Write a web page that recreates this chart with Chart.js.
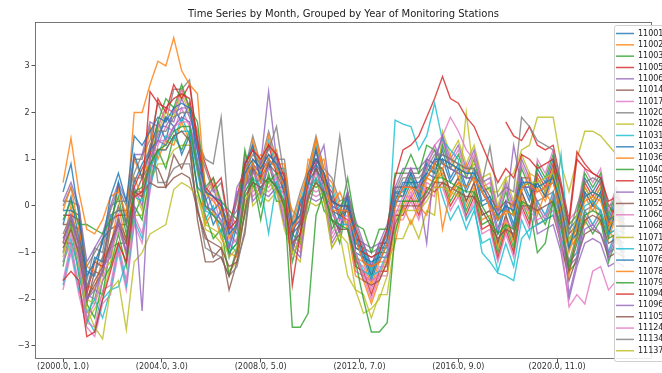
<!DOCTYPE html>
<html>
<head>
<meta charset="utf-8">
<script src="https://cdn.jsdelivr.net/npm/chart.js@4.4.1/dist/chart.umd.min.js"></script>
<style>
  html, body { margin: 0; padding: 0; background: #fff; overflow: hidden; }
  #wrap { width: 662px; height: 373px; }
</style>
</head>
<body>
<div id="wrap"><canvas id="myChart" width="662" height="373"></canvas></div>
<script>
// month index since (2000, 1), sampled every 4 months
var months = [0,4,8,12,16,20,24,28,32,36,40,44,48,52,56,60,64,68,72,76,80,84,88,92,
  96,100,104,108,112,116,120,124,128,132,136,140,144,148,152,156,160,164,168,172,176,180,184,188,
  192,196,200,204,208,212,216,220,224,228,232,236,240,244,248,252,256,260,264,268,272,276,280,284];

var xTickPos = [0, 50, 100, 150, 200, 250];
var xTickLabels = ["(2000.0, 1.0)", "(2004.0, 3.0)", "(2008.0, 5.0)", "(2012.0, 7.0)", "(2016.0, 9.0)", "(2020.0, 11.0)"];
var yTickPos = [-3, -2, -1, 0, 1, 2, 3];
var yTickLabels = ["\u22123", "\u22122", "\u22121", "0", "1", "2", "3"];

var stations = ["11001","11002","11003","11005","11006","11014","11017","11020","11028","11031",
  "11033","11036","11040","11050","11051","11052","11060","11068","11071","11072",
  "11076","11078","11079","11094","11096","11105","11124","11134","11137"];

var s11001 = [0.3,0.9,-0.2,-1.5,-1.2,-0.8,0.2,0.7,0.1,1.5,1.3,1.6,
  1.9,1.8,2.1,2.2,2.1,1.2,0.3,0.2,0.1,-0.6,-0.4,0.7,
  1.0,0.8,1.1,0.9,0.5,-0.4,-0.2,0.7,1.0,0.7,0.1,0.0,
  0.0,-0.6,-1.1,-1.2,-1.1,-0.7,0.1,0.5,0.5,0.5,0.7,1.0,
  1.0,0.9,0.8,0.7,0.7,0.4,0.1,-0.2,0.0,-0.1,0.5,0.5,
  0.4,0.5,0.6,0.0,-0.9,-0.3,0.2,0.3,0.2,-0.3,-0.2,-0.3];
var s11002 = [0.5,1.45,0.3,-0.5,-0.6,-0.3,0.2,0.3,-0.2,2.0,2.0,2.6,
  3.1,3.0,3.6,2.9,2.6,2.4,0.3,0.1,-0.1,-0.7,-0.4,0.6,
  0.9,0.5,1.0,0.8,0.4,-0.5,-0.2,0.6,1.45,0.6,-0.1,-0.1,
  -0.1,-0.7,-1.2,-1.3,-1.2,-0.8,0.0,0.4,0.4,0.3,0.6,0.9,
  -0.5,0.3,0.5,0.4,0.6,0.3,0.0,-0.3,-0.1,-0.2,0.4,0.5,
  0.3,0.4,0.5,-0.1,-1.0,-0.4,0.1,0.2,0.1,-0.4,-0.3,-0.4];
var s11003 = [-0.3,0.1,-0.4,-0.4,-0.5,-0.6,-0.3,0.2,-0.6,0.3,0.4,0.9,
  1.2,1.3,1.6,1.7,1.7,0.8,0.0,-0.2,-0.4,-1.0,-0.8,0.3,
  0.6,-0.3,0.6,0.4,0.1,-2.6,-2.6,-2.3,-0.2,0.3,-0.3,-0.4,
  -0.5,-1.2,-2.0,-2.7,-2.7,-2.5,-0.6,0.1,0.1,0.1,0.3,0.6,
  0.6,0.5,0.4,0.3,0.3,0.0,-0.3,-0.6,-0.4,-0.5,0.1,0.0,
  -1.0,-0.8,0.1,-0.4,-1.3,-0.7,-0.2,-0.1,-0.2,-0.7,-0.6,-0.7];
var s11005 = [-1.6,-1.4,-1.6,-2.8,-2.7,-2.0,-1.4,-0.8,-1.2,0.2,0.3,2.45,
  2.2,2.1,2.3,2.4,2.3,1.4,0.4,0.2,0.0,-0.5,-0.3,0.9,
  1.2,1.0,1.3,1.1,0.6,-1.7,-0.6,0.6,1.0,0.7,0.1,0.0,
  0.0,-0.5,-1.0,-1.1,-1.0,-0.5,0.6,1.2,1.3,1.5,1.9,2.3,
  2.77,2.3,2.2,1.9,1.7,1.3,0.9,0.5,0.8,0.6,1.1,1.0,
  0.8,0.9,1.0,0.4,-0.4,1.0,0.8,0.7,0.6,0.1,0.2,0.0];
var s11006 = [-0.8,-0.2,-0.9,-2.0,-1.8,-1.4,-0.9,-0.4,-1.0,0.0,-2.25,1.0,
  1.4,1.3,1.7,1.9,1.8,0.9,0.0,-0.1,-0.3,-0.9,0.3,0.4,
  0.7,0.9,2.45,1.0,0.4,-0.5,-0.3,0.6,0.9,1.3,0.0,-0.1,
  -0.1,-0.7,-1.2,-1.3,-1.2,-0.8,0.0,0.4,0.4,0.3,-0.8,1.0,
  1.5,0.8,0.7,0.6,0.6,0.3,0.0,-0.3,-0.1,1.3,0.4,0.4,
  0.3,0.4,0.5,-0.1,-1.9,-1.2,-0.5,-0.4,-0.6,-1.0,-0.9,-1.0];
var s11014 = [-0.9,-0.5,-1.0,-2.0,-1.6,-1.3,-0.8,-0.4,-0.8,0.3,0.2,0.9,
  1.2,1.2,1.5,1.6,1.4,-0.3,-1.2,-1.2,-1.1,-1.5,-1.0,0.2,
  0.5,0.4,0.6,0.4,0.0,-0.8,-0.6,0.2,0.5,0.3,-0.3,-0.5,
  -0.5,-1.1,-1.6,-1.7,-1.6,-1.2,-0.4,0.0,0.0,0.0,0.2,0.5,
  0.5,0.4,0.3,0.2,0.2,-0.1,-0.4,-0.7,-0.5,-0.6,0.0,0.0,
  -0.1,0.0,0.1,-0.5,-1.4,-0.8,-0.3,-0.2,-0.3,-0.8,-0.7,-0.8];
var s11017 = [-1.2,-0.6,-1.2,-2.4,-2.1,-1.6,-1.0,-0.5,-1.0,0.2,0.2,1.0,
  1.4,1.4,1.7,1.8,1.8,0.8,0.0,-0.2,-0.4,-0.9,-0.7,0.4,
  0.7,0.5,0.8,0.6,0.2,-0.8,-0.6,0.4,0.7,0.4,-0.2,-0.3,
  -0.3,-1.0,-1.5,-1.6,-1.5,-1.0,-0.2,0.2,0.2,0.4,0.8,1.3,
  1.5,1.9,1.6,1.2,1.0,0.5,0.0,-0.5,-0.3,-0.5,0.0,-0.1,
  -0.3,-0.2,-0.1,-0.8,-2.16,-1.9,-2.1,-1.4,-1.3,-1.8,-1.6,-1.7];
var s11020 = [-0.6,-0.2,-0.7,-1.7,-1.4,-1.1,-0.5,0.0,-0.4,0.6,0.6,1.3,
  1.6,1.6,1.9,2.0,2.0,1.4,1.0,0.9,1.9,-0.3,-0.1,0.8,
  1.1,0.9,1.2,1.7,0.6,-0.4,-0.2,0.7,1.0,0.7,0.1,1.5,
  0.3,-0.5,-1.0,-1.1,-1.0,-0.6,0.2,0.6,0.6,0.6,0.8,1.1,
  1.1,1.0,0.9,0.8,0.8,0.5,1.27,0.2,0.4,0.3,1.9,1.7,
  1.4,1.3,1.2,0.4,-0.6,0.0,0.5,0.6,0.5,0.0,0.1,0.0];
var s11028 = [-1.0,-0.5,-1.2,-2.2,-2.6,-2.85,-1.8,-1.6,-2.65,-1.2,-1.0,-0.6,
  -0.5,-0.4,0.35,0.5,0.4,0.2,-0.4,-0.5,-0.6,-1.1,-0.9,0.1,
  0.4,0.2,0.5,0.3,-0.1,-1.0,-0.8,0.2,0.5,0.2,-0.9,-0.6,
  -1.5,-1.8,-2.3,-2.2,-2.0,-1.5,-0.5,-0.1,-0.1,-0.1,0.1,0.4,
  0.4,0.3,0.2,2.0,0.6,0.3,0.0,-0.3,-0.1,-0.2,0.4,0.5,
  0.5,0.6,0.7,0.1,-0.8,-0.2,0.2,0.3,0.2,-0.3,-0.2,-0.3];
var s11031 = [-1.2,-0.7,-1.4,-2.3,-2.0,-2.4,-1.8,-1.73,-1.2,0.2,0.1,0.8,
  1.2,1.2,1.5,1.6,1.6,0.7,-0.1,-0.2,-0.4,-1.0,-0.8,0.3,
  0.6,0.4,-0.59,0.5,0.1,-0.8,-0.6,0.3,0.6,0.3,-0.3,-0.4,
  -0.4,-1.0,-1.4,-1.5,-1.4,-1.0,1.84,1.75,1.7,1.2,1.5,2.2,
  1.4,1.2,1.0,-0.3,0.0,-1.0,-1.2,-1.44,-1.5,-1.6,-0.7,-0.5,
  -0.4,-0.3,-0.2,1.1,-0.9,-0.4,0.0,0.1,-0.1,-0.6,-0.5,-0.6];
var s11033 = [-0.4,0.2,-0.7,-1.4,-1.5,-0.7,-0.5,0.5,-0.4,1.1,0.6,1.2,
  1.4,1.9,1.7,1.1,1.5,0.4,0.2,-0.4,-0.1,-1.1,-0.4,0.9,
  1.3,0.5,0.8,1.1,0.2,-0.7,0.1,0.4,1.2,0.3,0.2,-0.3,
  0.2,-0.9,-1.0,-1.5,-1.0,-0.6,0.3,0.2,0.7,0.2,0.9,0.7,
  1.2,0.6,0.9,0.4,0.8,0.1,0.2,-0.5,0.1,-0.4,0.6,0.2,
  0.5,0.2,0.7,-0.3,-0.8,-0.6,0.3,0.0,0.3,-0.6,-0.1,-0.5];
var s11036 = [-0.1,0.4,-0.5,-1.3,-1.4,-0.7,-0.5,0.4,-0.4,1.0,0.6,1.7,
  1.0,1.4,1.3,1.8,1.4,0.9,-0.4,-0.1,-0.7,-1.0,-1.1,0.4,
  1.4,0.8,1.5,0.9,0.9,-0.4,0.2,0.7,1.4,0.7,0.5,0.0,
  -0.5,-1.5,-1.6,-2.1,-1.6,-1.2,-0.8,0.0,-0.4,0.0,-0.2,0.5,
  0.8,1.1,0.6,0.9,0.5,0.6,-0.1,0.0,-0.2,0.1,0.3,0.7,
  -0.2,0.3,0.0,-0.2,-1.5,-0.5,-0.4,0.1,-0.4,-0.5,-0.8,-0.5];
var s11040 = [-1.3,-0.4,-1.5,-2.1,-2.4,-1.6,-1.3,-0.6,-1.3,0.0,-0.3,0.7,
  1.8,2.3,2.1,2.6,2.1,1.8,0.4,0.6,0.1,-0.1,-0.3,1.2,
  0.4,0.6,0.5,0.7,-0.1,-0.6,-0.8,0.5,0.4,0.5,-0.5,-0.2,
  0.6,-0.4,-0.5,-1.0,-0.5,-0.5,0.7,0.7,1.1,0.7,1.3,1.2,
  0.6,0.1,0.4,-0.1,0.3,-0.4,-0.3,-1.0,-0.4,-0.9,0.1,-0.3,
  0.9,0.6,1.1,0.1,-0.4,-0.2,0.7,0.4,0.7,-0.2,0.3,-0.2];
var s11050 = [-0.2,-0.2,-0.3,-1.9,-1.2,-1.3,-0.3,-0.2,-0.2,0.4,0.8,1.1,
  2.3,2.0,2.6,2.3,2.6,1.4,0.9,0.4,0.6,-0.4,0.2,0.9,
  1.2,0.6,1.3,0.7,0.7,-0.6,0.0,0.5,1.2,0.5,0.3,-0.2,
  -0.3,-1.3,-1.4,-1.9,-1.4,-1.4,-0.2,-0.2,0.2,-0.2,0.4,0.3,
  0.5,0.0,0.3,-0.2,0.2,-0.5,-0.4,-1.1,-0.5,-1.0,0.0,-0.4,
  0.7,0.4,0.9,-0.1,-0.6,-0.4,0.5,0.2,0.5,-0.4,0.1,-0.4];
var s11051 = [-1.0,-0.2,-1.1,-1.9,-2.0,-1.3,-1.1,-0.2,-1.0,0.4,0.0,1.1,
  1.5,1.9,1.8,2.3,1.9,1.4,0.1,0.4,-0.2,-0.4,-0.6,0.9,
  0.1,0.3,0.2,0.4,-0.4,-0.9,-1.1,0.2,0.1,0.2,-0.8,-0.5,
  0.3,-0.7,-0.8,-1.3,-0.8,-0.8,0.4,0.4,0.8,0.4,1.0,0.9,
  1.5,1.0,1.3,0.8,1.2,0.5,0.6,-0.1,0.5,0.0,1.0,0.6,
  0.0,-0.3,0.2,-0.8,-1.3,-1.1,-0.2,-0.5,-0.2,-1.1,-0.6,-1.1];
var s11052 = [-0.7,-0.3,-0.8,-2.0,-1.7,-1.4,-0.8,-0.3,-0.7,0.3,0.3,0.5,
  0.4,0.4,0.6,0.7,0.6,-0.1,-0.7,-0.8,-0.9,-1.3,-1.2,-0.1,
  0.8,0.6,0.9,0.7,0.3,-0.6,-0.4,0.5,0.8,0.5,-0.1,-0.2,
  -0.1,-0.7,-1.2,-1.3,-1.2,-0.8,0.0,0.4,0.4,0.4,0.6,0.9,
  1.1,1.0,0.9,0.8,0.8,0.5,0.2,-0.1,0.1,0.0,0.6,0.6,
  -0.4,-0.3,-0.2,-0.8,-1.6,-1.1,-0.6,-0.5,-0.6,-1.1,-1.0,-1.1];
var s11060 = [-1.6,-0.8,-1.7,-2.5,-2.6,-1.8,-1.7,-0.8,-1.6,-0.2,-0.6,0.5,
  1.7,2.1,2.0,2.5,2.1,1.6,0.3,0.6,0.0,-0.2,-0.4,1.1,
  0.3,0.5,0.4,0.6,-0.2,-0.7,-0.9,0.4,0.3,0.4,-0.6,-0.3,
  -0.2,-1.2,-1.3,-1.8,-1.3,-1.3,-0.1,-0.1,0.3,-0.1,0.5,0.4,
  0.4,-0.1,0.2,-0.3,0.1,-0.6,-0.5,-1.2,-0.6,-1.1,-0.1,-0.5,
  1.0,0.7,1.2,0.2,-0.3,-0.1,0.8,0.5,0.8,-0.1,0.4,-0.1];
var s11068 = [0.0,0.4,-0.1,-1.3,-1.0,-0.7,-0.1,0.4,0.0,1.0,1.0,1.7,
  0.5,0.5,0.8,0.9,0.9,0.0,-0.9,-1.0,-1.1,-1.5,-1.3,-0.5,
  1.0,0.8,1.1,0.9,0.5,-0.4,-0.2,0.7,1.0,0.7,0.1,0.0,
  0.2,-0.4,-0.9,-1.0,-0.9,-0.5,0.3,0.7,0.7,0.7,0.9,1.2,
  0.9,0.8,0.7,0.6,0.6,0.3,0.0,-0.3,-0.1,-0.2,0.4,0.4,
  0.1,0.2,0.3,-0.3,-1.2,-0.6,-0.1,0.0,-0.1,-0.6,-0.5,-0.6];
var s11071 = [-1.1,-0.3,-1.2,-2.0,-2.1,-1.4,-1.2,-0.3,-1.1,0.3,-0.1,1.0,
  1.6,2.0,1.9,2.4,2.0,1.5,0.2,0.5,-0.1,-0.3,-0.5,1.0,
  0.0,0.2,0.1,0.3,-0.5,-1.0,-1.2,0.1,0.0,0.1,-0.9,-0.6,
  -0.8,-1.8,-1.9,-2.4,-1.9,-1.9,-0.7,-0.7,-0.3,-0.7,-0.1,-0.2,
  1.6,1.1,1.4,0.9,1.3,0.6,0.7,0.0,0.6,0.1,1.1,0.7,
  0.6,0.3,0.8,-0.2,-0.7,-0.5,0.4,0.1,0.4,-0.5,0.0,-0.5];
var s11072 = [-1.7,-0.9,-1.8,-2.4,-2.7,-2.0,-1.8,-0.9,-1.7,-0.3,-0.7,0.4,
  1.1,1.5,1.4,1.9,1.5,1.0,-0.3,0.0,-0.6,-0.8,-1.0,0.5,
  1.3,0.7,1.4,0.8,0.8,-0.5,0.1,0.6,1.3,0.6,0.4,-0.1,
  0.2,-0.8,-0.9,-1.4,-0.9,-0.9,0.3,0.3,0.7,0.3,0.9,0.8,
  0.2,-0.3,0.0,-0.5,-0.1,-0.8,-0.7,-1.4,-0.8,-1.3,-0.3,-0.7,
  0.1,-0.2,0.3,-0.7,-1.2,-1.0,-0.1,-0.4,-0.1,-1.0,-0.5,-1.0];
var s11076 = [-0.1,-0.1,-0.2,-1.8,-1.1,-1.2,-0.2,-0.1,-0.1,0.5,0.9,1.2,
  1.8,1.4,2.1,1.8,2.2,0.9,0.4,-0.1,0.1,-0.9,-0.3,0.4,
  0.9,0.3,1.0,0.4,0.4,-0.9,-0.3,0.2,0.9,0.2,0.0,-0.5,
  0.0,-1.0,-1.1,-1.6,-1.1,-1.1,0.1,0.1,0.5,0.1,0.7,0.6,
  1.0,0.5,0.8,0.3,0.7,0.0,0.1,-0.6,0.0,-0.5,0.5,0.1,
  0.8,0.5,1.0,0.0,-0.5,-0.3,0.6,0.3,0.6,-0.3,0.2,-0.3];
var s11078 = [-0.8,0.0,-0.9,-1.7,-1.8,-1.1,-0.9,0.0,-0.8,0.6,0.2,1.3,
  1.7,2.1,2.0,2.5,2.1,1.6,0.3,0.6,0.0,-0.2,-0.4,1.1,
  0.9,1.1,1.0,1.2,0.4,-0.1,-0.3,1.0,0.9,1.0,0.0,0.3,
  -0.1,-1.1,-1.2,-1.7,-1.2,-1.2,0.0,0.0,0.4,0.0,0.6,0.5,
  0.7,0.2,0.5,0.0,0.4,-0.3,-0.2,-0.9,-0.3,-0.8,0.2,-0.2,
  0.4,0.1,0.6,-0.4,-0.9,-0.7,0.2,-0.1,0.2,-0.7,-0.2,-0.7];
var s11079 = [-0.8,-0.8,-0.9,-2.5,-1.8,-1.9,-0.9,-0.8,-0.8,-0.2,0.2,0.5,
  1.2,0.8,1.5,1.2,1.6,0.3,-0.2,-0.7,-0.5,-1.5,-0.9,-0.2,
  0.6,0.0,0.7,0.1,0.1,-1.2,-0.6,-0.1,0.6,-0.1,-0.3,-0.8,
  0.1,-0.9,-1.0,-1.5,-1.0,-1.0,0.2,0.2,0.6,0.2,0.8,0.7,
  1.3,0.8,1.1,0.6,1.0,0.3,0.4,-0.3,0.3,-0.2,0.8,0.4,
  -0.1,-0.4,0.1,-0.9,-1.4,-1.2,-0.3,-0.6,-0.3,-1.2,-0.7,-1.2];
var s11094 = [null,null,null,null,null,null,null,null,null,null,null,null,
  null,null,null,null,null,null,null,null,null,null,null,null,
  null,null,null,null,null,null,null,null,null,null,null,null,
  null,null,null,null,null,null,null,null,null,null,null,null,
  null,null,null,null,null,null,null,null,1.8,1.5,1.4,1.7,
  1.3,1.2,1.3,0.5,-0.3,1.16,0.9,0.7,0.6,0.0,-0.2,-0.3];
var s11096 = [0.1,0.5,0.0,-1.2,-0.9,-0.6,0.0,0.5,0.1,1.1,1.1,1.8,
  1.7,1.7,2.0,2.1,2.1,1.2,0.3,0.2,0.0,-0.6,0.4,0.7,
  0.9,0.7,1.0,0.8,0.4,-0.5,-0.3,0.6,0.9,0.6,0.0,-0.1,
  0.3,-0.3,-0.8,-0.9,-0.8,-0.4,0.4,0.8,0.8,0.8,1.0,1.3,
  0.9,0.8,0.7,0.6,0.6,0.3,0.0,-0.3,-0.1,-0.2,0.4,0.4,
  -0.6,-0.5,-0.4,-1.0,-2.0,-1.3,-0.8,-0.7,-0.8,-1.3,-1.2,-1.3];
var s11105 = [-0.4,-0.4,-0.5,-2.1,-1.4,-1.5,-0.5,-0.4,-0.4,0.2,0.6,0.9,
  0.8,0.4,1.1,0.8,1.2,-0.1,-0.6,-1.1,-0.9,-1.8,-1.2,-0.6,
  0.8,0.2,0.9,0.3,0.3,-1.0,-0.4,0.1,0.8,0.1,-0.1,-0.6,
  0.3,-0.7,-0.8,-1.3,-0.8,-0.8,0.4,0.4,0.8,0.4,1.0,0.9,
  0.8,0.3,0.6,0.1,0.5,-0.2,-0.1,-0.8,-0.2,-0.7,0.3,-0.1,
  0.6,0.3,0.8,-0.2,-0.7,-0.5,0.4,0.1,0.4,-0.5,0.0,-0.5];
var s11124 = [-1.8,-1.0,-1.9,-2.6,-2.8,-2.1,-1.9,-1.0,-1.8,-0.4,-0.8,0.3,
  1.3,1.7,1.6,2.1,1.7,1.2,-0.1,0.2,-0.4,-0.6,-0.8,0.7,
  0.2,0.4,0.3,0.5,-0.3,-0.8,-1.0,0.3,0.2,0.3,-0.7,-0.4,
  -0.4,-1.4,-1.5,-2.0,-1.5,-1.5,-0.3,-0.3,0.1,-0.3,0.3,0.2,
  1.4,0.9,1.2,0.7,1.1,0.4,0.5,-0.2,0.4,-0.1,0.9,0.5,
  0.1,-0.2,0.3,-0.7,-1.2,-1.0,-0.1,-0.4,-0.1,-1.0,-0.5,-1.0];
var s11134 = [0.1,0.1,0.0,-1.6,-0.9,-1.0,0.0,0.1,0.1,0.7,1.1,1.4,
  2.2,1.8,2.5,2.5,2.7,1.3,0.8,0.3,0.5,-0.5,0.1,0.8,
  1.5,0.9,1.6,1.0,1.0,-0.3,0.3,0.8,1.5,0.8,0.6,0.1,
  0.2,-0.8,-0.9,-1.4,-0.9,-0.9,0.3,0.3,0.7,0.3,0.9,0.8,
  0.8,0.3,0.6,0.1,0.5,-0.2,-0.1,-0.8,-0.2,-0.7,0.3,-0.1,
  0.5,0.2,0.7,-0.3,-0.8,-0.6,0.3,0.0,0.3,-0.6,-0.1,-0.6];
var s11137 = [-1.2,-0.8,-1.3,-2.5,-2.2,-1.9,-1.3,-0.8,-1.2,-0.2,-0.2,0.5,
  0.9,0.9,1.2,1.3,1.3,0.4,-0.5,-0.6,-0.8,-1.4,-1.2,-0.1,
  0.9,0.7,1.0,0.8,0.4,-0.5,-0.3,0.6,0.9,0.6,0.0,-0.1,
  -0.4,-1.0,-1.5,-1.6,-1.5,-1.1,-0.3,0.1,0.1,0.1,0.3,0.6,
  1.0,0.9,0.8,0.7,0.9,0.6,0.3,0.3,0.6,0.7,1.2,1.3,
  1.9,1.9,1.9,0.9,0.3,1.0,1.6,1.6,1.5,1.3,1.1,1.0];

var seriesValues = [s11001,s11002,s11003,s11005,s11006,s11014,s11017,s11020,s11028,s11031,
  s11033,s11036,s11040,s11050,s11051,s11052,s11060,s11068,s11071,s11072,
  s11076,s11078,s11079,s11094,s11096,s11105,s11124,s11134,s11137];

// matplotlib tab10
var tab10 = ["#1f77b4","#ff7f0e","#2ca02c","#d62728","#9467bd","#8c564b","#e377c2","#7f7f7f","#bcbd22","#17becf"];

var datasets = stations.map(function(name, i) {
  var c = tab10[i % 10];
  return {
    label: name,
    data: seriesValues[i],
    borderColor: c + "d0",
    backgroundColor: c,
    borderWidth: 1.4,
    pointRadius: 0,
    tension: 0,
    spanGaps: false
  };
});

var font = "DejaVu Sans";

// axes frame, drawn after the lines
var framePlugin = {
  id: "frame",
  afterDatasetsDraw: function(chart) {
    var a = chart.chartArea, ctx = chart.ctx;
    ctx.save();
    ctx.strokeStyle = "#555";
    ctx.lineWidth = 0.8;
    ctx.strokeRect(a.left + 0.5, a.top + 0.5, a.right - a.left - 1, a.bottom - a.top - 1);
    ctx.restore();
  }
};

// matplotlib-like legend inside the upper right of the axes
var legendPlugin = {
  id: "mplLegend",
  afterDraw: function(chart) {
    var ctx = chart.ctx;
    var left = 614, top = 25, bottom = 361, right = 700, step = 11.33;
    ctx.save();
    ctx.fillStyle = "rgba(255,255,255,0.85)";
    ctx.strokeStyle = "#d0d0d0";
    ctx.lineWidth = 1;
    ctx.beginPath();
    ctx.roundRect(left + 0.5, top + 0.5, right - left, bottom - top, 2);
    ctx.fill();
    ctx.stroke();
    ctx.font = "8px '" + font + "'";
    ctx.textBaseline = "middle";
    chart.data.datasets.forEach(function(ds, i) {
      var y = top + 8.5 + i * step;
      ctx.strokeStyle = ds.borderColor;
      ctx.lineWidth = 1.5;
      ctx.beginPath();
      ctx.moveTo(616, y);
      ctx.lineTo(634, y);
      ctx.stroke();
      ctx.fillStyle = "#222";
      ctx.fillText(ds.label, 638, y);
    });
    ctx.restore();
  }
};

new Chart("myChart", {
  type: "line",
  data: {
    labels: months,
    datasets: datasets
  },
  plugins: [framePlugin, legendPlugin],
  options: {
    responsive: false,
    animation: false,
    layout: { padding: { left: 0, right: 10, top: 0, bottom: 0 } },
    plugins: {
      legend: { display: false },
      tooltip: { enabled: false },
      title: {
        display: true,
        text: "Time Series by Month, Grouped by Year of Monitoring Stations",
        fullSize: false,
        color: "#222",
        font: { family: font, size: 10, weight: "normal" },
        padding: { top: 8, bottom: 2 }
      }
    },
    scales: {
      x: {
        type: "linear",
        min: -14.2,
        max: 298,
        afterFit: function(s) { s.height = 14; },
        afterBuildTicks: function(s) { s.ticks = xTickPos.map(function(v) { return { value: v }; }); },
        grid: { display: true, drawOnChartArea: false, drawTicks: true, tickLength: 3.5, color: "#555" },
        border: { display: false },
        ticks: {
          autoSkip: false,
          maxRotation: 0,
          padding: 0,
          color: "#333",
          font: { family: font, size: 8 },
          callback: function(v) { var i = xTickPos.indexOf(v); return i >= 0 ? xTickLabels[i] : ""; }
        }
      },
      y: {
        min: -3.28,
        max: 3.94,
        afterFit: function(s) { s.width = 35; },
        afterBuildTicks: function(s) { s.ticks = yTickPos.map(function(v) { return { value: v }; }); },
        grid: { display: true, drawOnChartArea: false, drawTicks: true, tickLength: 3.5, color: "#555" },
        border: { display: false },
        ticks: {
          padding: 2,
          color: "#333",
          font: { family: font, size: 8 },
          callback: function(v) { var i = yTickPos.indexOf(v); return i >= 0 ? yTickLabels[i] : ""; }
        }
      }
    }
  }
});
</script>
</body>
</html>
